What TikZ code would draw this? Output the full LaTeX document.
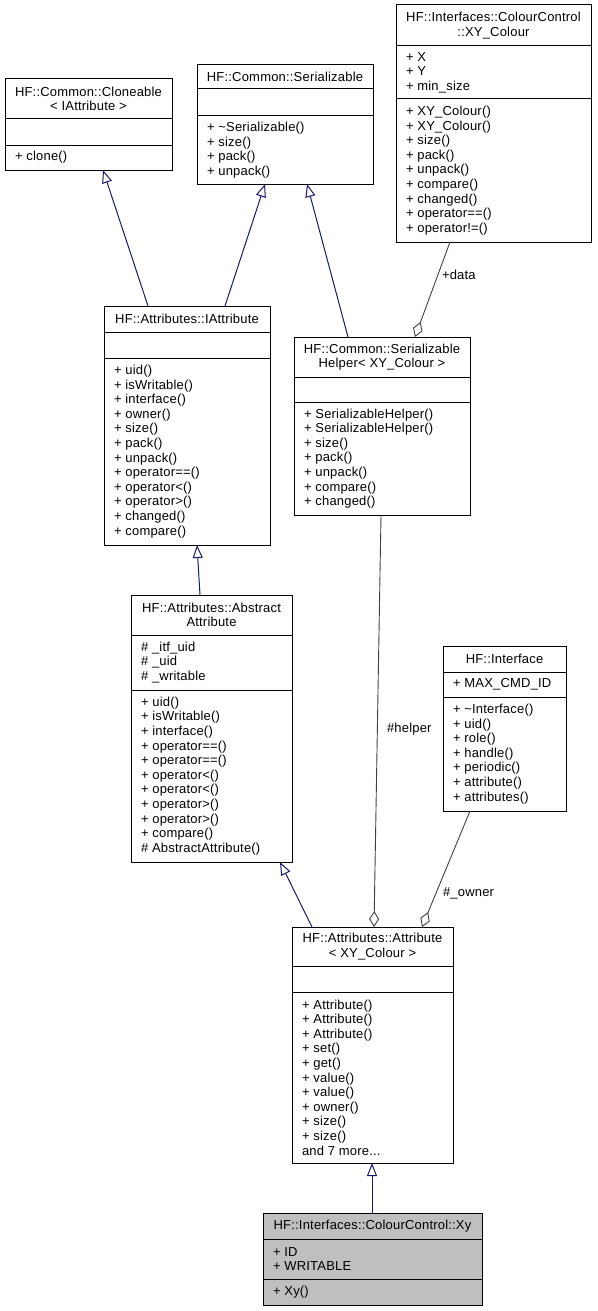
\documentclass[tikz,border=0pt]{standalone}
\usepackage{fontspec}
\setmainfont{Liberation Sans}[LetterSpace=1.5]
\usetikzlibrary{arrows.meta,calc}
\definecolor{inhblue}{HTML}{191970}
\definecolor{agggray}{HTML}{404040}
\definecolor{hilite}{HTML}{BFBFBF}
\tikzset{
  txt/.style={font=\fontsize{13}{14.6}\selectfont, inner sep=0pt, outer sep=0pt},
  ttl/.style={txt, align=center, anchor=center},
  mem/.style={txt, align=left, anchor=west},
  box/.style={draw=black, line width=1pt, inner sep=0pt, outer sep=0pt, anchor=north west, fill=white},
  sepline/.style={draw=black, line width=1pt},
  inh/.style={draw=inhblue, line width=1pt, -{Triangle[open, length=13pt, width=10pt, fill=white]}},
  agg/.style={draw=agggray, line width=0.9pt, -{Diamond[open, length=16pt, width=10pt, fill=white]}},
  lbl/.style={txt, anchor=west},
}
\begin{document}
\begin{tikzpicture}[x=1pt, y=-1pt]
\useasboundingbox (0,0) rectangle (597,1311);

% ---- HF::Common::Cloneable< IAttribute >
\node[box, minimum width=167pt, minimum height=91pt] (cl) at (5,79) {};
\draw[sepline] (5,119) -- (172,119);
\draw[sepline] (5,145) -- (172,145);
\node[ttl] (clt) at (88.5,99) {HF::Common::Cloneable\\{}< IAttribute >};
\node[mem] (clm) at (15,157.5) {+ clone()};

% ---- HF::Common::Serializable
\node[box, minimum width=176pt, minimum height=119pt] (se) at (197,65) {};
\draw[sepline] (197,89) -- (373,89);
\draw[sepline] (197,116) -- (373,116);
\node[ttl] (set) at (285,77) {HF::Common::Serializable};
\node[mem] (sem) at (207,150) {+ \textasciitilde Serializable()\\+ size()\\+ pack()\\+ unpack()};

% ---- HF::Interfaces::ColourControl::XY_Colour
\node[box, minimum width=195pt, minimum height=237pt] (xy) at (396,5) {};
\draw[sepline] (396,46) -- (591,46);
\draw[sepline] (396,99) -- (591,99);
\node[ttl] (xyt) at (493.5,25.5) {HF::Interfaces::ColourControl\\::XY\_Colour};
\node[mem] (xya) at (406,72.5) {+ X\\+ Y\\+ min\_size};
\node[mem] (xym) at (406,170.5) {+ XY\_Colour()\\+ XY\_Colour()\\+ size()\\+ pack()\\+ unpack()\\+ compare()\\+ changed()\\+ operator==()\\+ operator!=()};

% ---- HF::Attributes::IAttribute
\node[box, minimum width=166pt, minimum height=239pt] (ia) at (104,306) {};
\draw[sepline] (104,332) -- (270,332);
\draw[sepline] (104,358) -- (270,358);
\node[ttl] (iat) at (187,319) {HF::Attributes::IAttribute};
\node[mem] (iam) at (114,451.5) {+ uid()\\+ isWritable()\\+ interface()\\+ owner()\\+ size()\\+ pack()\\+ unpack()\\+ operator==()\\+ operator<()\\+ operator>()\\+ changed()\\+ compare()};

% ---- HF::Common::SerializableHelper< XY_Colour >
\node[box, minimum width=176pt, minimum height=178pt] (sh) at (294,337) {};
\draw[sepline] (294,377) -- (470,377);
\draw[sepline] (294,402) -- (470,402);
\node[ttl] (sht) at (382,357) {HF::Common::Serializable\\Helper< XY\_Colour >};
\node[mem] (shm) at (304,458.5) {+ SerializableHelper()\\+ SerializableHelper()\\+ size()\\+ pack()\\+ unpack()\\+ compare()\\+ changed()};

% ---- HF::Attributes::AbstractAttribute
\node[box, minimum width=161pt, minimum height=267pt] (ab) at (131,595) {};
\draw[sepline] (131,635) -- (292,635);
\draw[sepline] (131,690) -- (292,690);
\node[ttl] (abt) at (211.5,615) {HF::Attributes::Abstract\\Attribute};
\node[mem] (aba) at (141,662.5) {\# \_itf\_uid\\\# \_uid\\\# \_writable};
\node[mem] (abm) at (141,776) {+ uid()\\+ isWritable()\\+ interface()\\+ operator==()\\+ operator==()\\+ operator<()\\+ operator<()\\+ operator>()\\+ operator>()\\+ compare()\\\# AbstractAttribute()};

% ---- HF::Interface
\node[box, minimum width=123pt, minimum height=165pt] (in) at (443,646) {};
\draw[sepline] (443,672) -- (566,672);
\draw[sepline] (443,697) -- (566,697);
\node[ttl] (int) at (504.5,659) {HF::Interface};
\node[mem] (ina) at (453,684.5) {+ MAX\_CMD\_ID};
\node[mem] (inm) at (453,754) {+ \textasciitilde Interface()\\+ uid()\\+ role()\\+ handle()\\+ periodic()\\+ attribute()\\+ attributes()};

% ---- HF::Attributes::Attribute< XY_Colour >
\node[box, minimum width=161pt, minimum height=236pt] (at) at (292,927) {};
\draw[sepline] (292,966) -- (453,966);
\draw[sepline] (292,992) -- (453,992);
\node[ttl] (att) at (372.5,946.5) {HF::Attributes::Attribute\\{}< XY\_Colour >};
\node[mem] (atm) at (302,1077.5) {+ Attribute()\\+ Attribute()\\+ Attribute()\\+ set()\\+ get()\\+ value()\\+ value()\\+ owner()\\+ size()\\+ size()\\and 7 more...};

% ---- HF::Interfaces::ColourControl::Xy
\node[box, fill=hilite, minimum width=219pt, minimum height=92pt] (xyc) at (263,1213) {};
\draw[sepline] (263,1239) -- (482,1239);
\draw[sepline] (263,1279) -- (482,1279);
\node[ttl] (xyct) at (372.5,1226) {HF::Interfaces::ColourControl::Xy};
\node[mem] (xyca) at (273,1259) {+ ID\\+ WRITABLE};
\node[mem] (xycm) at (273,1292) {+ Xy()};

% ---- inheritance
\draw[inh] ([xshift=44pt]ia.north west) -- ([xshift=98pt]cl.south west);
\draw[inh] ([xshift=121pt]ia.north west) -- ([xshift=68pt]se.south west);
\draw[inh] ([xshift=54pt]sh.north west) -- ([xshift=110pt]se.south west);
\draw[inh] ([xshift=69pt]ab.north west) -- ([xshift=93pt]ia.south west);
\draw[inh] ([xshift=20pt]at.north west) -- ([xshift=149pt]ab.south west);
\draw[inh] ([xshift=109pt]xyc.north west) -- ([xshift=80pt]at.south west);

% ---- aggregation
\draw[agg] ([xshift=54pt]xy.south west) -- ([xshift=121pt]sh.north west);
\node[lbl] (ldata) at (442,275) {+data};
\draw[agg] ([xshift=87pt]sh.south west) -- ([xshift=82pt]at.north west);
\node[lbl] (lhelper) at (387,729) {\#helper};
\draw[agg] ([xshift=27pt]in.south west) -- ([xshift=130pt]at.north west);
\node[lbl] (lowner) at (443,893) {\#\_owner};
\end{tikzpicture}
\end{document}
